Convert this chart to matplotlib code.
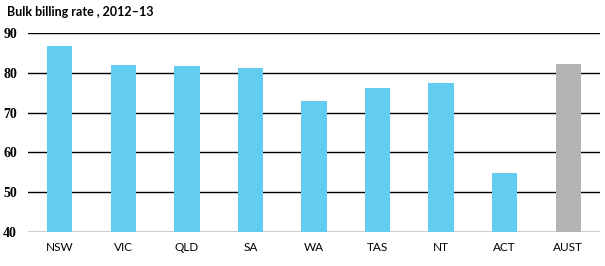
import matplotlib.pyplot as plt
import numpy as np

states = ['NSW', 'VIC', 'QLD', 'SA', 'WA', 'TAS', 'NT', 'ACT', 'AUST']
rates = [86.8, 82.0, 81.7, 81.2, 72.9, 76.2, 77.4, 54.8, 82.2]
bar_colors = ['#63cdf1'] * 8 + ['#b3b3b3']

fig = plt.figure(figsize=(6.05, 2.66), dpi=100)
ax = fig.add_axes([28 / 605, 1 - 232 / 266, 572 / 605, 199 / 266])

x = np.arange(len(states))
ax.set_axisbelow(True)
ax.yaxis.grid(True, color='black', linewidth=1.0)
ax.bar(x, rates, width=0.4, color=bar_colors, zorder=2)

ax.set_xlim(-0.5, len(states) - 0.5)
ax.set_ylim(40, 90)
ax.set_yticks([40, 50, 60, 70, 80, 90])
ax.set_xticks(x)
ax.set_xticklabels(states, family='Lato', fontsize=8.5)
for lbl in ax.get_yticklabels():
    lbl.set_family('Liberation Serif')
    lbl.set_fontweight('bold')
    lbl.set_fontsize(10)
ax.tick_params(axis='both', length=0)
ax.tick_params(axis='y', pad=8)
ax.tick_params(axis='x', pad=7)
for s in ax.spines.values():
    s.set_visible(False)

fig.text(7 / 605, 1 - 12 / 266, 'Bulk billing rate , 2012\u201313', family='Lato',
         fontweight='bold', fontsize=9, va='center', ha='left')

fig.savefig('out.png', dpi=100)
